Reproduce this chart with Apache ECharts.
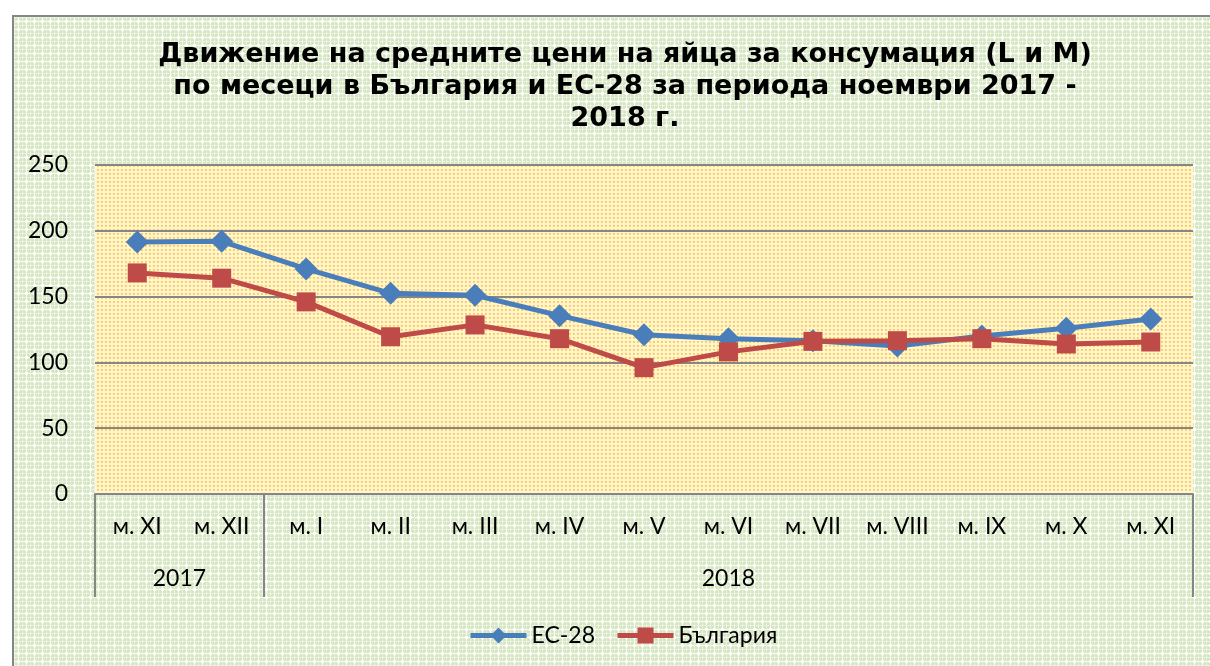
<!DOCTYPE html>
<html>
<head>
<meta charset="utf-8">
<script src="https://cdn.jsdelivr.net/npm/echarts@6/dist/echarts.min.js"></script>
<style>
  html, body { margin: 0; padding: 0; background: #ffffff; }
  #bg { position: absolute; left: 12px; top: 15px; width: 1198px; height: 651px;
        border-top: 2px solid #868686; border-left: 2px solid #868686; box-sizing: border-box; }
  #chart { position: absolute; left: 0; top: 0; width: 1210px; height: 666px; }
</style>
</head>
<body>
<div id="bg"></div>
<div id="chart"></div>
<script>
// ---- data ----
const titleText = 'Движение на средните цени на яйца за консумация (L и M)\nпо месеци в България и ЕС-28 за периода ноември 2017 -\n2018 г.';
const months = ['м. XI', 'м. XII', 'м. I', 'м. II', 'м. III', 'м. IV', 'м. V', 'м. VI', 'м. VII', 'м. VIII', 'м. IX', 'м. X', 'м. XI'];
const yearLabels = ['2017', '2018'];
const yearSpans = [2, 11];
const seriesNames = ['ЕС-28', 'България'];
const ec28 = [191.5, 192, 171, 152.5, 151, 135.5, 121, 118, 116.5, 112.5, 120, 126, 133];
const bulgaria = [168, 164, 146, 119.5, 128.5, 118, 96, 108, 116, 116.5, 118, 114, 115.5];
const yTicks = [0, 50, 100, 150, 200, 250];

// ---- patterns ----
function makeGreen() {
  const c = document.createElement('canvas'); c.width = 8; c.height = 8;
  const g = c.getContext('2d');
  g.fillStyle = '#d6e6c0'; g.fillRect(0, 0, 8, 8);
  g.fillStyle = '#e9f2de'; g.fillRect(0, 0, 8, 1); g.fillRect(0, 0, 1, 8);
  g.fillStyle = '#ffffff';
  g.fillRect(1, 4, 7, 1); g.fillRect(4, 1, 1, 7);
  g.fillRect(3, 3, 3, 3);
  g.fillStyle = '#f6f9f0';
  g.fillRect(0, 0, 1, 1);
  return c;
}
function makeYellow() {
  const c = document.createElement('canvas'); c.width = 4; c.height = 4;
  const g = c.getContext('2d');
  g.fillStyle = '#fff5d2'; g.fillRect(0, 0, 4, 4);
  g.fillStyle = '#fed661'; g.fillRect(1, 1, 2, 2);
  g.fillStyle = '#fcc530'; g.fillRect(1, 1, 1, 1);
  return c;
}
document.getElementById('bg').style.backgroundImage = 'url(' + makeGreen().toDataURL() + ')';

// build half-month slots for the year axis
const totalMonths = months.length;
const yearSlots = new Array(totalMonths * 2 + 1).fill('');
const yearBounds = new Set([0]);
let start = 0;
yearLabels.forEach((y, i) => {
  yearSlots[2 * start + yearSpans[i]] = y;
  start += yearSpans[i];
  yearBounds.add(2 * start);
});

const font = 'Lato';
const fs = 23;
const chart = echarts.init(document.getElementById('chart'), null, { renderer: 'canvas' });
chart.setOption({
  backgroundColor: 'transparent',
  animation: false,
  title: {
    text: titleText,
    left: 620, top: 34, textAlign: 'center',
    textStyle: { fontFamily: 'DejaVu Sans', fontWeight: 'bold', fontSize: 27, lineHeight: 32, color: '#000' }
  },
  legend: {
    bottom: 14, left: 463,
    itemWidth: 56, itemHeight: 20, itemGap: 20,
    textStyle: { fontFamily: font, fontSize: fs, color: '#000' },
    lineStyle: { width: 5 },
    data: seriesNames
  },
  grid: {
    left: 95, right: 17, top: 165, bottom: 172,
    show: true, borderWidth: 0,
    backgroundColor: { image: makeYellow(), repeat: 'repeat' }
  },
  xAxis: [
    {
      type: 'category', data: months, boundaryGap: true, position: 'bottom',
      axisLine: { show: true, lineStyle: { color: '#868686', width: 2 } },
      axisTick: { show: false },
      axisLabel: { margin: 21, fontFamily: font, fontSize: fs, color: '#000', interval: 0 },
      splitLine: { show: false }
    },
    {
      type: 'category', data: yearSlots, boundaryGap: false, position: 'bottom',
      axisLine: { show: false },
      axisTick: { show: true, length: 103, inside: false,
        interval: (idx) => yearBounds.has(idx),
        lineStyle: { color: '#868686', width: 2 } },
      axisLabel: { margin: 73, fontFamily: font, fontSize: fs, color: '#000',
        interval: (idx, val) => val !== '' },
      splitLine: { show: false }
    }
  ],
  yAxis: {
    type: 'value', min: yTicks[0], max: yTicks[yTicks.length - 1], interval: yTicks[1] - yTicks[0],
    axisLine: { show: false }, axisTick: { show: false },
    axisLabel: { margin: 27, fontFamily: font, fontSize: fs, color: '#000' },
    splitLine: { show: true, lineStyle: { color: '#868686', width: 2 } }
  },
  series: [
    {
      name: seriesNames[0], type: 'line', data: ec28, xAxisIndex: 0,
      symbol: 'diamond', symbolSize: 23,
      lineStyle: { color: '#4a7ebb', width: 5 },
      itemStyle: { color: '#4a7ebb' },
      z: 2
    },
    {
      name: seriesNames[1], type: 'line', data: bulgaria, xAxisIndex: 0,
      symbol: 'rect', symbolSize: 19,
      lineStyle: { color: '#be4b48', width: 5 },
      itemStyle: { color: '#be4b48' },
      z: 3
    }
  ]
});
</script>
</body>
</html>
